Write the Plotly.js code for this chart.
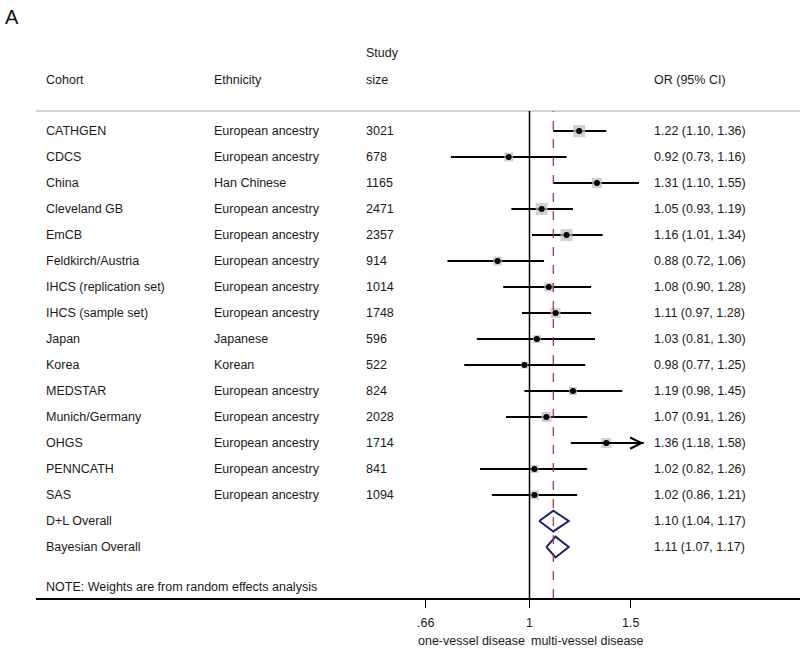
<!DOCTYPE html>
<html>
<head>
<meta charset="utf-8">
<script src="https://cdn.plot.ly/plotly-3.0.1.min.js"></script>
<style>html,body{margin:0;padding:0;background:#fff;}#chart{width:800px;height:654px;}</style>
</head>
<body>
<div id="chart"></div>
<script>
const cohorts = ["CATHGEN","CDCS","China","Cleveland GB","EmCB","Feldkirch/Austria","IHCS (replication set)","IHCS (sample set)","Japan","Korea","MEDSTAR","Munich/Germany","OHGS","PENNCATH","SAS"];
const ethnicity = ["European ancestry","European ancestry","Han Chinese","European ancestry","European ancestry","European ancestry","European ancestry","European ancestry","Japanese","Korean","European ancestry","European ancestry","European ancestry","European ancestry","European ancestry"];
const studySize = [3021,678,1165,2471,2357,914,1014,1748,596,522,824,2028,1714,841,1094];
const orEst = [1.22,0.92,1.31,1.05,1.16,0.88,1.08,1.11,1.03,0.98,1.19,1.07,1.36,1.02,1.02];
const ciLow = [1.10,0.73,1.10,0.93,1.01,0.72,0.90,0.97,0.81,0.77,0.98,0.91,1.18,0.82,0.86];
const ciHigh = [1.36,1.16,1.55,1.19,1.34,1.06,1.28,1.28,1.30,1.25,1.45,1.26,1.58,1.26,1.21];
// relative weights (box size)
const weights = [12,9,10,12,12,9,9,10,8,7,8,10,10,8,9];

const overallLabels = ["D+L Overall","Bayesian Overall"];
const overallEst = [1.10,1.11];
const overallLow = [1.04,1.07];
const overallHigh = [1.17,1.17];

const tickVals = [0.66,1,1.5];
const tickText = [".66","1","1.5"];

const FONT = "Liberation Sans, Arial, sans-serif";
const FS = 12.5;
const TXT = "#1a1a1a";
const L = 36, W = 764, TOP = 111, BOT = 598, H = BOT - TOP;
const px2x = p => (p - L) / W;
const px2y = p => (BOT - p) / H;

const n = cohorts.length;
const rows = cohorts.map((_, i) => i);
const overallRows = overallLabels.map((_, j) => n + j);
const noteRow = 17.54;
const plotMax = 1.56; // CI beyond this is shown with an arrow

// CI lines
const ciX = [], ciY = [];
for (let i = 0; i < n; i++) {
  ciX.push(ciLow[i], Math.min(ciHigh[i], plotMax + 0.02), null);
  ciY.push(i, i, null);
}

const traces = [];
traces.push({type:"scatter", mode:"lines", x:ciX, y:ciY, line:{color:"#000", width:2}, hoverinfo:"skip", showlegend:false});
traces.push({type:"scatter", mode:"markers", x:orEst, y:rows,
  marker:{symbol:"square", size:weights, color:"#bdbdbd", line:{width:0}}, hoverinfo:"skip", showlegend:false});
traces.push({type:"scatter", mode:"markers", x:orEst, y:rows,
  marker:{symbol:"circle", size:6, color:"#000"}, hoverinfo:"skip", showlegend:false});

// Diamonds
const dh = 0.4;
overallEst.forEach((e, j) => {
  const r = overallRows[j];
  traces.push({type:"scatter", mode:"lines",
    x:[overallLow[j], e, overallHigh[j], e, overallLow[j]],
    y:[r, r - dh, r, r + dh, r],
    line:{color:"#1b1d78", width:2}, hoverinfo:"skip", showlegend:false});
});

const ann = [];
const addText = (text, xp, yv, yref, opts={}) => ann.push(Object.assign({
  text, x:xp, y:yv, xref:"paper", yref, xanchor:"left", yanchor:"middle",
  showarrow:false, font:{family:FONT, size:FS, color:TXT}}, opts));

const cx = [44, 212, 364, 652];
// Header
addText("A", px2x(3), px2y(17), "paper", {font:{family:FONT, size:20, color:"#111"}});
addText("Cohort", px2x(cx[0]), px2y(80), "paper");
addText("Ethnicity", px2x(cx[1]), px2y(80), "paper");
addText("Study", px2x(cx[2]), px2y(53), "paper");
addText("size", px2x(cx[2]), px2y(80), "paper");
addText("OR (95% CI)", px2x(cx[3]), px2y(80), "paper");

for (let i = 0; i < n; i++) {
  addText(cohorts[i], px2x(cx[0]), i, "y");
  addText(ethnicity[i], px2x(cx[1]), i, "y");
  addText(String(studySize[i]), px2x(cx[2]), i, "y");
  addText(orEst[i].toFixed(2) + " (" + ciLow[i].toFixed(2) + ", " + ciHigh[i].toFixed(2) + ")", px2x(cx[3]), i, "y");
}
overallLabels.forEach((lab, j) => {
  addText(lab, px2x(cx[0]), overallRows[j], "y");
  addText(overallEst[j].toFixed(2) + " (" + overallLow[j].toFixed(2) + ", " + overallHigh[j].toFixed(2) + ")", px2x(cx[3]), overallRows[j], "y");
});
addText("NOTE: Weights are from random effects analysis", px2x(cx[0]), noteRow, "y");

// arrow for CI exceeding range
for (let i = 0; i < n; i++) {
  if (ciHigh[i] > plotMax) {
    ann.push({x:Math.log10(ciHigh[i]), y:i, xref:"x", yref:"y",
      ax:Math.log10(ciLow[i]), ay:i, axref:"x", ayref:"y",
      showarrow:true, arrowhead:5, arrowsize:1.1, arrowwidth:2, arrowcolor:"#000", text:""});
  }
}

// axis direction labels
ann.push({text:"one-vessel disease", x:0, y:px2y(641), xref:"x", yref:"paper", xanchor:"right", yanchor:"middle", xshift:-3, showarrow:false, font:{family:FONT, size:FS, color:TXT}});
ann.push({text:"multi-vessel disease", x:0, y:px2y(641), xref:"x", yref:"paper", xanchor:"left", yanchor:"middle", xshift:-1, showarrow:false, font:{family:FONT, size:FS, color:TXT}});

const shapes = [
  {type:"line", xref:"paper", yref:"paper", x0:0, x1:1, y0:1, y1:1, line:{color:"#c4c4c4", width:1.5}},
  {type:"line", xref:"x", yref:"paper", x0:1, x1:1, y0:0, y1:1, line:{color:"#000", width:1.5}},
  {type:"line", xref:"x", yref:"paper", x0:overallEst[0], x1:overallEst[0], y0:0, y1:1, line:{color:"#9b3040", width:1.2, dash:"dash"}}
];

const k10 = 575, onePx = 529.5;
const layout = {
  width:800, height:654,
  margin:{l:L, r:0, t:TOP, b:654 - BOT, pad:0},
  paper_bgcolor:"#fff", plot_bgcolor:"#fff",
  showlegend:false,
  xaxis:{type:"log", range:[(L - onePx)/k10, (800 - onePx)/k10], autorange:false,
    tickvals:tickVals, ticktext:tickText, ticks:"outside", ticklen:8, tickwidth:1.2, tickcolor:"#000",
    ticklabelstandoff:4,
    showline:true, linecolor:"#000", linewidth:1.5, showgrid:false, zeroline:false,
    tickfont:{family:FONT, size:FS, color:TXT}, fixedrange:true},
  yaxis:{range:[17.96, -0.77], autorange:false, visible:false, showgrid:false, zeroline:false, fixedrange:true},
  annotations:ann,
  shapes:shapes,
  font:{family:FONT, color:TXT}
};
Plotly.newPlot("chart", traces, layout, {displayModeBar:false, staticPlot:true});
</script>
</body>
</html>
